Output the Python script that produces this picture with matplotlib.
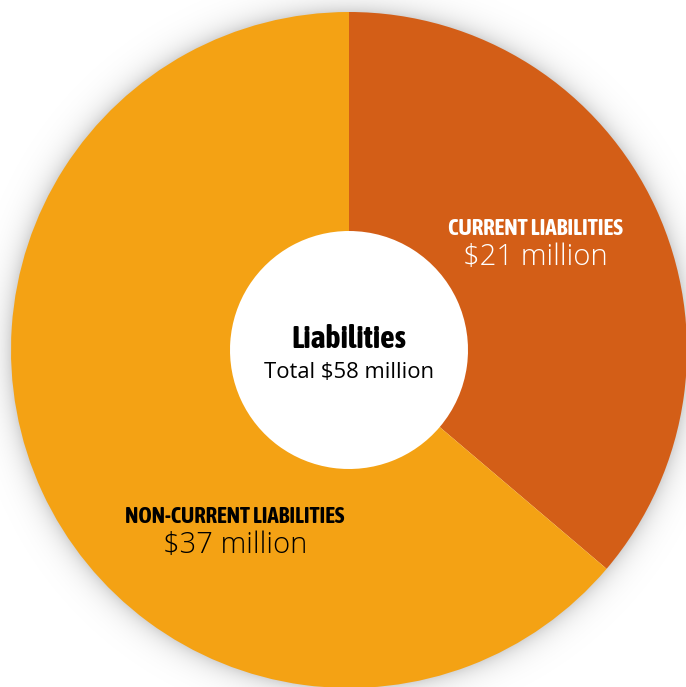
import numpy as np
import matplotlib
matplotlib.use("Agg")
import matplotlib.pyplot as plt
from matplotlib import font_manager
import matplotlib.patheffects as pe

labels = ["CURRENT LIABILITIES", "NON-CURRENT LIABILITIES"]
values = [21, 37]  # $ million
colors = ["#D35E17", "#F4A214"]
total = sum(values)

W, H = 686, 687
fig = plt.figure(figsize=(W / 100, H / 100), dpi=100)
ax = fig.add_axes([0, 0, 1, 1])

cx, cy = 349, H - 350
R, r_in = 338, 119

# soft drop shadow around the ring
yy, xx = np.mgrid[0:H, 0:W]
d = np.hypot(xx + 0.5 - cx, (H - yy - 0.5) - cy)
alpha = np.where(d > R - 2, 0.17 * np.exp(-np.clip(d - R, 0, None) / 11.0), 0)
shadow = np.zeros((H, W, 4))
shadow[..., 3] = alpha
ax.imshow(shadow, extent=(0, W, 0, H), origin="upper", zorder=0, interpolation="bilinear")

ax.pie(values, colors=colors, startangle=90, counterclock=False,
       radius=R, center=(cx, cy), frame=True,
       wedgeprops=dict(width=R - r_in, linewidth=0))
ax.set_xlim(0, W)
ax.set_ylim(0, H)
ax.set_aspect("equal")
ax.axis("off")

# narrow bold face for the headings; thicken a regular narrow one if no bold cut exists
fonts = font_manager.fontManager.ttflist
is_narrow = lambda f: "Narrow" in f.name or "Condensed" in f.name
def heavy(f):
    w = f.weight
    return (w if isinstance(w, int) else {"bold": 700}.get(w, 400)) >= 700
narrow_bold = sorted({f.name for f in fonts if is_narrow(f) and heavy(f)})
narrow_any = sorted({f.name for f in fonts if is_narrow(f)})
if narrow_bold:
    head = dict(family=[narrow_bold[0], "DejaVu Sans"], fontweight="bold")
    thick = 0
elif narrow_any:
    head = dict(family=[narrow_any[0], "DejaVu Sans"])
    thick = 1.1
else:
    head = dict(family=["Roboto", "DejaVu Sans"], fontweight="bold")
    thick = 0
light = dict(family=["Open Sans", "DejaVu Sans"], fontweight="light")

renderer = fig.canvas.get_renderer()

def label(x, y, s, width, size, color, bolden=False, **kw):
    # scale the type so the string spans the wanted width
    t = ax.text(x, H - y, s, ha="center", va="center", color=color,
                fontsize=size, **kw)
    w = t.get_window_extent(renderer).width
    t.set_fontsize(size * width / w)
    if bolden and thick:
        t.set_path_effects([pe.withStroke(linewidth=thick, foreground=color)])
    return t

label(535, 229, labels[0], 176, 14, "white", bolden=True, **head)
label(535, 257, "$%d million" % values[0], 144, 20, "white", **light)

label(235, 517, labels[1], 220, 14, "black", bolden=True, **head)
label(235, 545, "$%d million" % values[1], 144, 20, "black", **light)

label(cx, 340, "Liabilities", 115, 19, "black", bolden=True, **head)
label(cx, 372, "Total $%d million" % total, 170, 14, "black",
      family=["Open Sans", "DejaVu Sans"])

fig.savefig("out.png", dpi=100, facecolor="white")
